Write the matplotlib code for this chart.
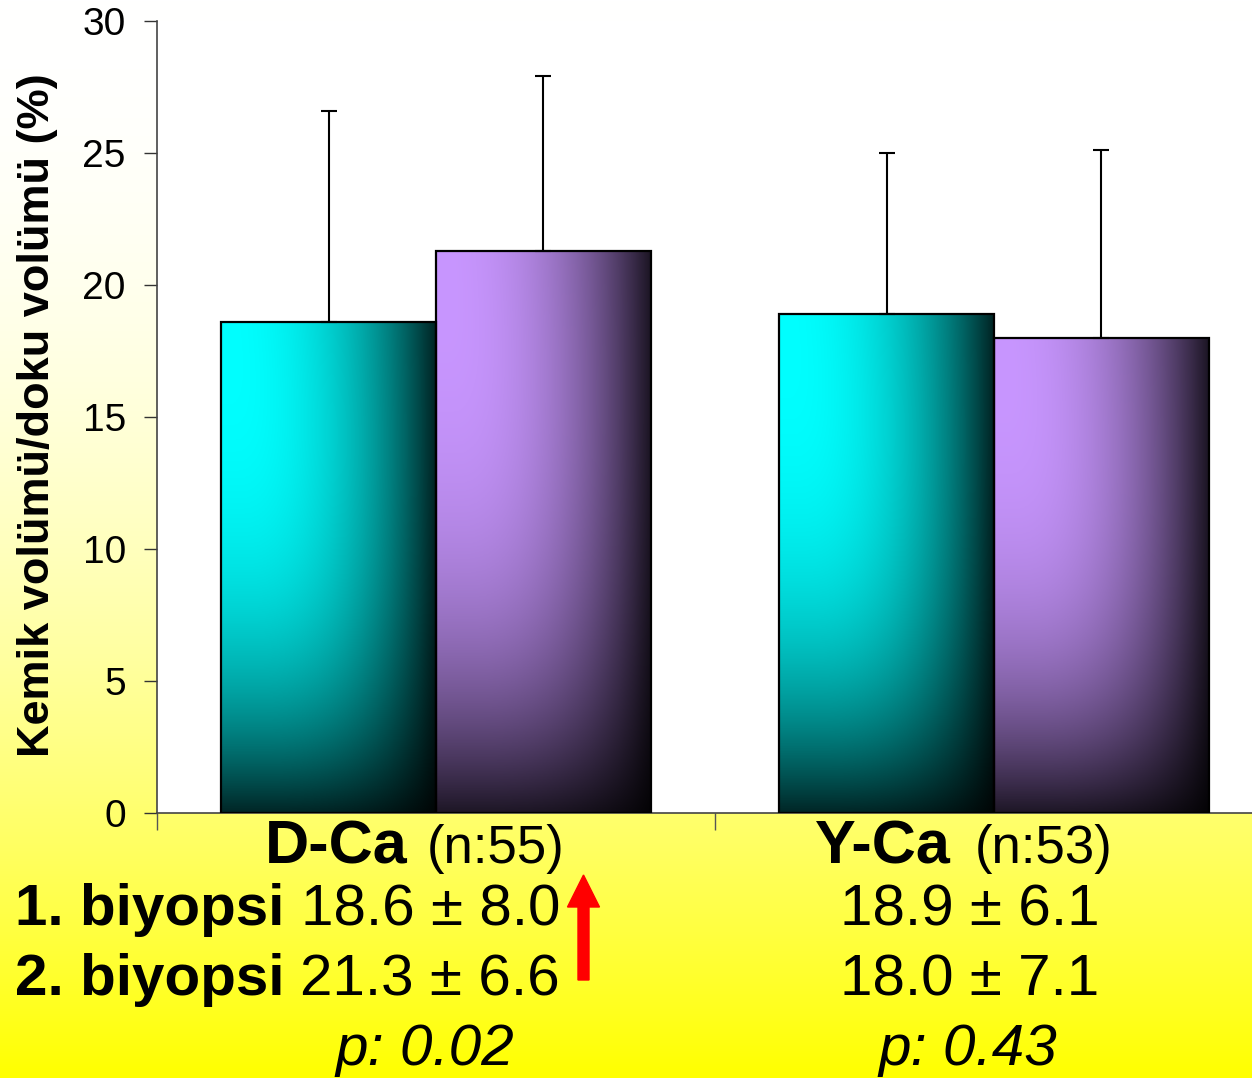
import numpy as np
import matplotlib
matplotlib.use("Agg")
import matplotlib.pyplot as plt
from matplotlib.patches import FancyArrow

plt.rcParams['font.family'] = ['Liberation Sans', 'DejaVu Sans']

# data
groups = ['D-Ca', 'Y-Ca']
group_n = ['(n:55)', '(n:53)']
biopsy1 = [18.6, 18.9]
biopsy1_sd = [8.0, 6.1]
biopsy2 = [21.3, 18.0]
biopsy2_sd = [6.6, 7.1]
p_values = ['0.02', '0.43']
yticks = [0, 5, 10, 15, 20, 25, 30]

W, H = 1252, 1078
fig = plt.figure(figsize=(W / 100, H / 100), dpi=100)

# background: white at top fading to yellow at the bottom
bg = fig.add_axes([0, 0, 1, 1])
t = np.linspace(0, 1, 400)[:, None]
blue = 1 - t ** 2
grad = np.dstack([np.ones_like(blue), np.ones_like(blue), blue])
bg.imshow(grad, aspect='auto', extent=[0, 1, 0, 1], origin='upper')
bg.axis('off')

ax = fig.add_axes([157 / W, 265 / H, (W - 157) / W, 792 / H])
ax.set_facecolor('white')


def shaded(rgb, n=200):
    # horizontal light->dark sweep, skewed, with darkening towards the bottom
    u = np.linspace(0, 1, n)[None, :]
    w = np.linspace(0, 1, n)[:, None]
    s = np.clip(u - 0.25 * w, 0, 1) / (1 - 0.25 * w)
    hfac = 1 - 0.86 * s ** 2.2
    vfac = 1 - 0.85 * w ** 3
    f = hfac * vfac
    base = np.array(rgb) / 255.0
    return np.clip(f[:, :, None] * base[None, None, :], 0, 1)


bw = 0.385
x = np.arange(len(groups))
series = [(biopsy1, biopsy1_sd, (0, 255, 255), -bw / 2),
          (biopsy2, biopsy2_sd, (200, 150, 255), bw / 2)]

for vals, sds, rgb, off in series:
    bars = ax.bar(x + off, vals, width=bw, facecolor='none',
                  edgecolor='black', linewidth=1.6, zorder=3)
    for b in bars:
        x0 = b.get_x()
        img = ax.imshow(shaded(rgb), extent=[x0, x0 + bw, 0, b.get_height()],
                        aspect='auto', origin='upper', zorder=2)
        img.set_clip_path(b)
    ax.errorbar(x + off, vals, yerr=[np.zeros(len(vals)), sds], fmt='none',
                ecolor='black', elinewidth=1.5, capsize=6, capthick=1.5,
                zorder=4)

ax.set_xlim(-0.5, -0.5 + (W - 157) / 558)
ax.set_ylim(0, 30)
ax.set_yticks(yticks)
ax.tick_params(axis='y', labelsize=28, length=9.5, width=1, pad=13,
               colors='#333333', labelcolor='black')
ax.set_xticks([-0.5, 0.5])
ax.set_xticklabels([])
ax.tick_params(axis='x', length=12, width=1, colors='#555555')
for side in ['top', 'right']:
    ax.spines[side].set_visible(False)
for side in ['left', 'bottom']:
    ax.spines[side].set_color('#444444')
    ax.spines[side].set_linewidth(1.2)


def put(px, py, s, **kw):
    fig.text(px / W, 1 - py / H, s, va='baseline', **kw)


fig.text(38 / W, 1 - 415 / H, 'Kemik volümü/doku volümü (%)', rotation=90,
         ha='center', va='center', fontsize=32.5, fontweight='bold')

# group headers
put(265, 863, groups[0], fontsize=44, fontweight='bold', ha='left')
put(565, 863, group_n[0], fontsize=38, ha='right')
put(815, 863, groups[1], fontsize=44, fontweight='bold', ha='left')
put(1112, 863, group_n[1], fontsize=38, ha='right')

# mean ± sd rows
put(15, 925, '1. biyopsi', fontsize=42, fontweight='bold', ha='left')
put(560, 925, f'{biopsy1[0]:.1f} ± {biopsy1_sd[0]:.1f}', fontsize=42, ha='right')
put(15, 995, '2. biyopsi', fontsize=42, fontweight='bold', ha='left')
put(560, 995, f'{biopsy2[0]:.1f} ± {biopsy2_sd[0]:.1f}', fontsize=42, ha='right')
put(970, 925, f'{biopsy1[1]:.1f} ± {biopsy1_sd[1]:.1f}', fontsize=42, ha='center')
put(970, 995, f'{biopsy2[1]:.1f} ± {biopsy2_sd[1]:.1f}', fontsize=42, ha='center')

put(425, 1065, f'p: {p_values[0]}', fontsize=42, style='italic', ha='center')
put(968, 1065, f'p: {p_values[1]}', fontsize=42, style='italic', ha='center')

# red arrow marking the increase
arrow = FancyArrow(5.835, (H - 980) / 100, 0, (980 - 875) / 100, width=0.11,
                   head_width=0.32, head_length=0.32, length_includes_head=True,
                   color='red', transform=fig.dpi_scale_trans)
fig.add_artist(arrow)

fig.savefig('out.png', dpi=100)
